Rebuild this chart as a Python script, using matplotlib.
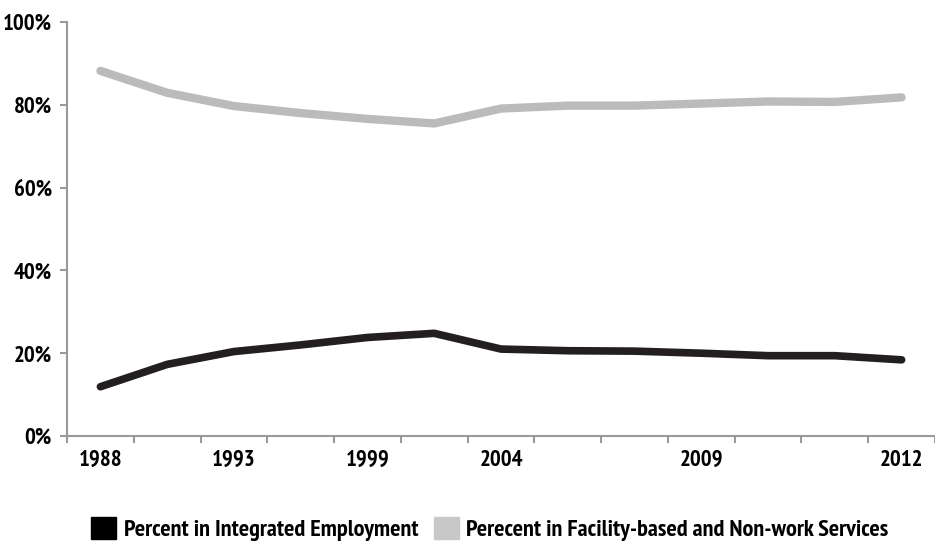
import matplotlib.pyplot as plt
from matplotlib.patches import Patch
from matplotlib.ticker import FixedLocator

plt.rcParams['font.family'] = ['PT Sans Narrow', 'DejaVu Sans']
plt.rcParams['font.weight'] = 'bold'

# data
years = ['1988', '', '1993', '', '1999', '', '2004', '', '', '2009', '', '', '2012']
integrated = [11.9, 17.3, 20.4, 22.0, 23.8, 24.8, 21.0, 20.6, 20.5, 20.0, 19.4, 19.4, 18.4]
facility = [88.2, 82.9, 79.7, 78.0, 76.6, 75.5, 79.1, 79.8, 79.8, 80.3, 80.8, 80.7, 81.8]

fig = plt.figure(figsize=(9.35, 5.45), dpi=100)
ax = fig.add_axes([0.0717, 0.200, 0.9283, 0.7596])

x = range(len(years))
ax.plot(x, facility, color='#bbbbbb', lw=6, solid_capstyle='round', solid_joinstyle='round')
ax.plot(x, integrated, color='#231f20', lw=5.5, solid_capstyle='round', solid_joinstyle='round')

ax.set_xlim(-0.5, len(years) - 0.5)
ax.set_ylim(0, 100)
ax.set_yticks([0, 20, 40, 60, 80, 100])
ax.set_yticklabels([f'{v}%' for v in range(0, 101, 20)])
ax.set_xticks(list(x))
ax.set_xticklabels(years)
ax.xaxis.set_minor_locator(FixedLocator([i - 0.5 for i in range(len(years) + 1)]))

for s in ['top', 'right']:
    ax.spines[s].set_visible(False)
for s in ['left', 'bottom']:
    ax.spines[s].set_color('#999999')
    ax.spines[s].set_linewidth(1.5)

ax.tick_params(axis='x', which='major', length=0, pad=10, labelsize=16.5)
ax.tick_params(axis='x', which='minor', length=5, width=1.5, color='#999999')
ax.tick_params(axis='y', length=5, width=1.5, color='#999999', labelsize=16.5, pad=6)

handles = [Patch(color='#000000', label='Percent in Integrated Employment'),
           Patch(color='#c8c8c8', label='Perecent in Facility-based and Non-work Services')]
fig.legend(handles=handles, loc='lower left', bbox_to_anchor=(0.095, 0.002), ncol=2,
           frameon=False, fontsize=17.5, handlelength=1.03, handleheight=1.0,
           handletextpad=0.3, columnspacing=0.65, borderpad=0.1, borderaxespad=0)

fig.savefig('out.png', dpi=100)
